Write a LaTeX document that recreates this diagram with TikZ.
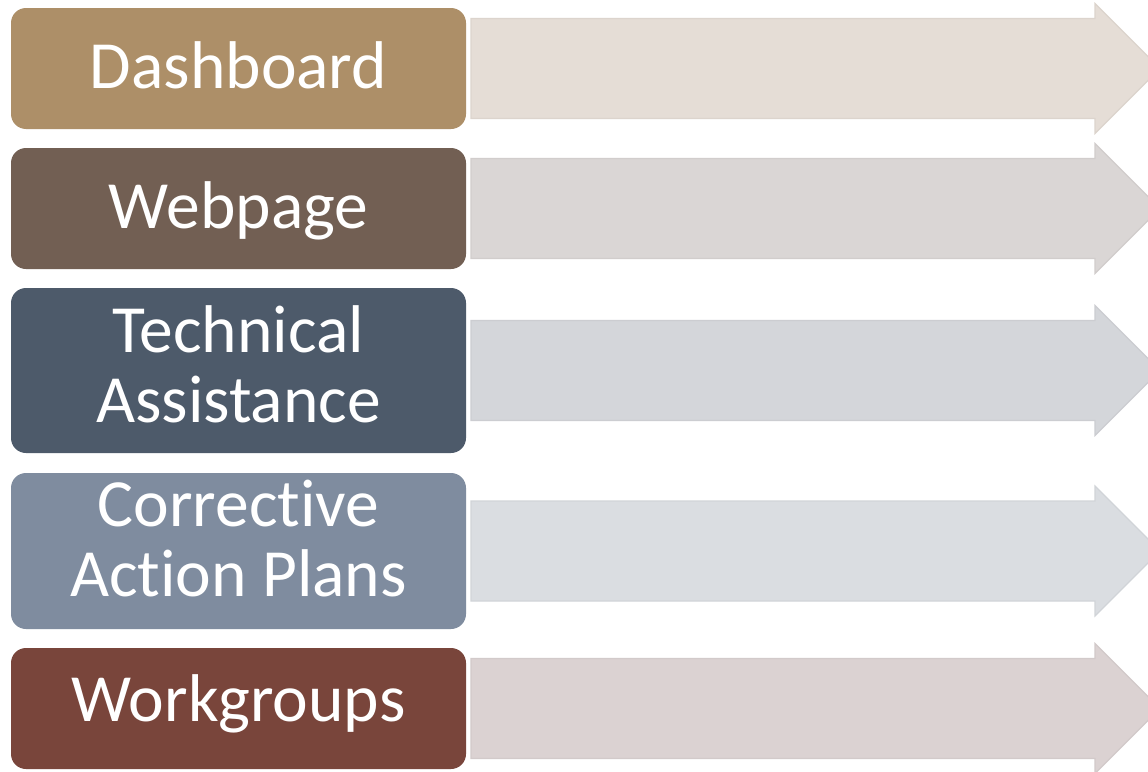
\documentclass[tikz,border=0pt]{standalone}
\usepackage{fontspec}
\setmainfont[Ligatures=NoCommon]{Carlito}
\definecolor{c1}{HTML}{AD8F68}
\definecolor{c2}{HTML}{725F53}
\definecolor{c3}{HTML}{4D5A6A}
\definecolor{c4}{HTML}{7F8C9F}
\definecolor{c5}{HTML}{79453B}
\definecolor{a1}{HTML}{E5DDD6}
\definecolor{a2}{HTML}{DAD6D5}
\definecolor{a3}{HTML}{D4D6DA}
\definecolor{a4}{HTML}{DADDE1}
\definecolor{a5}{HTML}{DBD2D2}
\tikzset{
  boxfill/.style={rounded corners=15pt},
  boxtext/.style={inner sep=0pt, text=white, anchor=base,
    font=\fontsize{67.5}{70}\selectfont},
  arrowshape/.style={line width=1.2pt, line join=miter}
}
\newcommand{\rowitem}[7]{%
  % #1 name, #2 top, #3 bottom, #4 box colour, #5 arrow colour, #6 baseline, #7 text
  \pgfmathsetmacro{\cy}{(#2+#3)/2}
  \fill[boxfill, #4] (11,#2) rectangle (466,#3);
  \node[boxtext] (#1) at (238.5,#6)
    {\begin{tabular}[t]{@{}c@{}}#7\end{tabular}};
  \filldraw[arrowshape, fill=#5, draw=#5!96!black]
    (471,\cy-50) -- (1095,\cy-50) -- (1095,\cy-65) -- (1160,\cy)
    -- (1095,\cy+65) -- (1095,\cy+50) -- (471,\cy+50) -- cycle;
}
\begin{document}
\begin{tikzpicture}[x=1pt,y=-1pt]
\useasboundingbox (0,0) rectangle (1148,771);
\clip (0,0) rectangle (1148,771);
\fill[white] (0,0) rectangle (1148,771);
\rowitem{dash}{8}{129}{c1}{a1}{88}{Dashboard}
\rowitem{web}{148}{269}{c2}{a2}{228.3}{Webpage}
\rowitem{tech}{288}{453}{c3}{a3}{352}{Technical\\Assistance}
\rowitem{cap}{473}{629}{c4}{a4}{526.7}{Corrective\\Action Plans}
\rowitem{work}{648}{769}{c5}{a5}{721.7}{Workgroups}
\end{tikzpicture}
\end{document}
